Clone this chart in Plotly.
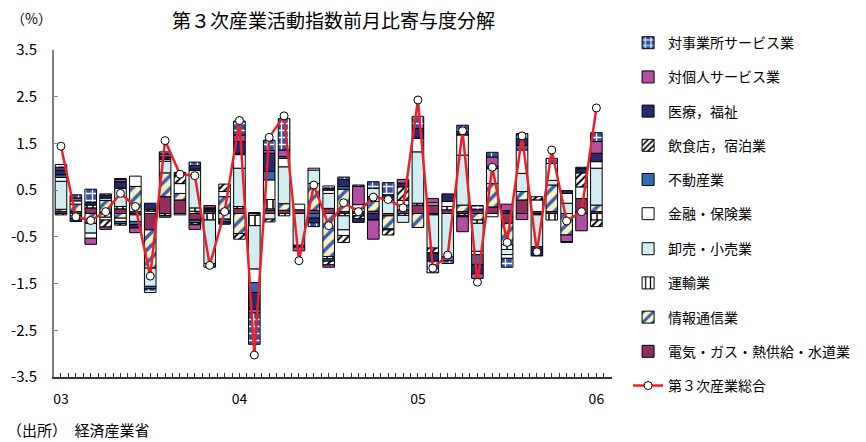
import plotly.graph_objects as go

# Months Jan 2003 - Jan 2006
months = [f"{2003 + i // 12}/{i % 12 + 1:02d}" for i in range(37)]
year_ticks = ["03", "04", "05", "06"]

# Contribution to month-on-month change (percentage points), by industry
denki = [0.04, 0.04, 0.12, 0.03, 0.10, 0.04, -0.35, 0.36, 0.29, -0.14, 0.05, 0.07,
         0.11, 0.02, 0.07, 0.07, 0.08, 0.07, 0.11, 0.04, 0.04, 0.05, -0.05, 0.08,
         0.18, 0.18, 0.08, 0.04, 0.08, 0.14, -0.21, 0.29, 0.04, 0.04, 0.00, 0.32, 0.04]
joho = [0.05, 0.16, -0.21, 0.25, -0.10, 0.54, -0.82, 0.51, 0.14, 0.05, 0.00, 0.29,
        -0.43, -0.04, 0.03, 0.14, 0.00, 0.57, -0.92, 0.48, 0.00, 0.21, -0.28, 0.10,
        -0.30, -0.03, 0.00, 0.14, -0.14, 0.50, -0.46, 0.18, -0.03, 0.57, -0.46, 0.00, 0.14]
unyu = [-0.03, -0.05, 0.06, -0.08, 0.05, -0.03, 0.00, -0.04, 0.00, 0.07, -0.14, 0.00,
        0.04, -0.22, 0.20, -0.05, 0.00, 0.00, -0.05, -0.05, -0.05, 0.10, -0.02, -0.04,
        0.04, 0.00, 0.07, -0.04, -0.07, 0.00, -0.10, 0.00, 0.00, -0.14, 0.00, 0.00, -0.14]
oroshi = [0.60, -0.05, -0.21, 0.05, 0.39, -0.14, -0.39, 0.25, -0.03, 0.80, -0.93, -0.12,
          0.82, -0.93, -0.12, 0.79, -0.68, 0.29, 0.32, -0.30, 0.07, 0.18, 0.29, -0.15,
          1.10, -0.71, -0.93, 1.07, -0.60, 0.32, -0.11, 0.39, -0.68, 0.10, 0.22, 0.00, 0.79]
kinyu = [0.08, 0.07, -0.11, -0.06, -0.07, 0.22, 0.05, 0.04, 0.21, 0.03, 0.00, 0.11,
         0.29, -0.29, 0.42, 0.18, 0.12, 0.04, 0.07, -0.12, 0.08, 0.00, 0.00, 0.10,
         0.29, 0.05, 0.11, 0.43, -0.07, -0.07, -0.08, 0.50, 0.25, 0.36, 0.21, 0.25, 0.14]
fudosan = [0.06, 0.00, 0.00, 0.00, -0.05, -0.07, -0.05, -0.04, 0.00, -0.06, 0.03, -0.06,
           0.03, -0.21, 0.18, 0.04, 0.00, -0.10, -0.05, 0.06, 0.00, 0.00, 0.05, 0.00,
           0.00, 0.00, 0.00, -0.03, -0.21, 0.00, 0.00, 0.10, 0.00, 0.00, 0.00, 0.00, 0.00]
inshoku = [0.00, 0.00, 0.00, -0.15, -0.03, 0.00, 0.03, 0.00, 0.18, -0.04, 0.00, 0.16,
           -0.12, 0.00, -0.06, 0.00, 0.00, 0.00, -0.08, -0.15, -0.06, 0.00, -0.11, 0.29,
           0.00, -0.10, 0.00, 0.00, 0.00, 0.00, 0.00, 0.00, 0.07, 0.00, 0.00, 0.30, -0.14]
iryo = [0.10, -0.07, 0.06, 0.06, 0.14, -0.07, 0.14, 0.05, 0.06, 0.08, 0.04, -0.05,
        0.25, -0.36, 0.39, 0.00, -0.04, -0.10, 0.04, 0.15, -0.08, -0.14, 0.06, 0.08,
        0.21, -0.18, 0.16, 0.08, -0.20, 0.05, 0.06, 0.15, -0.20, 0.00, 0.06, 0.09, 0.18]
kojin = [0.05, 0.06, -0.13, -0.05, 0.05, -0.10, 0.00, 0.06, 0.00, -0.10, 0.05, 0.00,
         0.14, -0.08, 0.06, 0.14, -0.08, 0.00, -0.05, 0.00, 0.39, -0.41, 0.00, 0.08,
         0.00, 0.09, -0.08, -0.32, -0.10, 0.20, 0.14, -0.13, 0.00, 0.00, -0.14, -0.37, 0.25]
jigyosho = [0.07, 0.07, 0.28, 0.03, 0.02, 0.00, -0.08, 0.05, 0.00, 0.07, -0.08, 0.00,
            0.30, -0.67, 0.22, 0.67, 0.00, -0.08, 0.05, 0.05, 0.03, 0.14, 0.26, 0.00,
            0.26, -0.25, -0.06, 0.13, 0.09, 0.10, -0.19, 0.10, 0.00, 0.11, -0.02, 0.03, 0.19]

# Tertiary industry activity index, total (% change from previous month)
total = [1.44, -0.07, -0.15, 0.04, 0.43, 0.15, -1.34, 1.56, 0.84, 0.81, -1.11, 0.04,
         1.99, -3.03, 1.63, 2.09, -1.01, 0.61, -0.26, 0.23, 0.04, 0.35, 0.30, 0.12,
         2.43, -1.17, -0.89, 1.77, -1.47, 0.99, -0.62, 1.66, -0.82, 1.36, -0.16, 0.04, 2.26]

x = list(range(len(months)))
tick_pos = [i for i, m in enumerate(months) if m.endswith("/01")]

FONT = "Noto Sans CJK JP"

# name, values, fill colour, pattern, legend box (stacked bottom to top)
series = [
    ("電気・ガス・熱供給・水道業", denki, "#8e2f5e", None, "legend2"),
    ("情報通信業", joho, "#f7f1c2", dict(shape="/", fgcolor="#3a62b4", bgcolor="#f7f1c2", size=9, solidity=0.4, fillmode="replace"), "legend2"),
    ("運輸業", unyu, "#ffffff", dict(shape="|", fgcolor="#000000", bgcolor="#ffffff", size=6, solidity=0.25, fillmode="replace"), "legend2"),
    ("卸売・小売業", oroshi, "#d2edf2", None, "legend2"),
    ("金融・保険業", kinyu, "#ffffff", None, "legend"),
    ("不動産業", fudosan, "#2f6cb6", None, "legend"),
    ("飲食店，宿泊業", inshoku, "#ffffff", dict(shape="/", fgcolor="#000000", bgcolor="#ffffff", size=5, solidity=0.4, fillmode="replace"), "legend"),
    ("医療，福祉", iryo, "#28286e", None, "legend"),
    ("対個人サービス業", kojin, "#b24fa4", None, "legend"),
    ("対事業所サービス業", jigyosho, "#3152a6", dict(shape="+", fgcolor="#ffffff", bgcolor="#3152a6", size=7, solidity=0.35, fillmode="replace"), "legend"),
]

fig = go.Figure()
n = len(series)
for i, (name, vals, color, pattern, leg) in enumerate(series):
    marker = dict(color=color, line=dict(color="#000000", width=1))
    if pattern:
        marker["pattern"] = pattern
    fig.add_trace(go.Bar(
        x=x, y=[v if v else None for v in vals], name=name,
        marker=marker, width=0.78,
        legend=leg, legendgroup=name, legendrank=n - i,
    ))

fig.add_trace(go.Scatter(
    x=x, y=total, name="第３次産業総合", mode="lines+markers",
    line=dict(color="#e8212b", width=2.5),
    marker=dict(symbol="circle", size=8, color="#ffffff", line=dict(color="#000000", width=1)),
    legend="legend2", legendgroup="total", legendrank=100,
))

legend_style = dict(
    xanchor="left", yanchor="top",
    traceorder="grouped", tracegroupgap=13,
    font=dict(family=FONT, size=14, color="#000000"),
    bgcolor="rgba(0,0,0,0)",
)

fig.update_layout(
    width=866, height=442,
    margin=dict(l=54, r=253, t=50, b=65),
    barmode="relative", bargap=0.22,
    paper_bgcolor="#ffffff", plot_bgcolor="#ffffff",
    font=dict(family=FONT, size=14, color="#000000"),
    showlegend=True,
    legend=dict(x=1.027, y=1.07, **legend_style),
    legend2=dict(x=1.027, y=0.44, **legend_style),
    xaxis=dict(
        range=[-0.47, 37.05], tickvals=tick_pos, ticktext=year_ticks,
        showgrid=False, zeroline=False,
        showline=True, linecolor="#333333", linewidth=1.5,
        ticks="inside", ticklen=4, tickcolor="#333333",
        minor=dict(dtick=0.5, tick0=0, ticks="inside", ticklen=4, tickcolor="#333333"),
        tickfont=dict(family=FONT, size=14), ticklabelstandoff=8,
    ),
    yaxis=dict(
        range=[-3.5, 3.5], tickvals=[-3.5, -2.5, -1.5, -0.5, 0.5, 1.5, 2.5, 3.5],
        ticktext=["-3.5", "-2.5", "-1.5", "-0.5", "0.5", "1.5", "2.5", "3.5"],
        showgrid=False, zeroline=False,
        showline=True, linecolor="#808080", linewidth=2,
        ticks="inside", ticklen=4, tickcolor="#808080",
        tickfont=dict(family=FONT, size=15), ticklabelstandoff=12,
    ),
    annotations=[
        dict(text="第３次産業活動指数前月比寄与度分解", xref="paper", yref="paper",
             x=0.5, y=1.092, xanchor="center", yanchor="middle", showarrow=False,
             font=dict(family=FONT, size=19)),
        dict(text="（%）", xref="paper", yref="paper", x=-0.08, y=1.098,
             xanchor="left", yanchor="middle", showarrow=False,
             font=dict(family=FONT, size=14)),
        dict(text="（出所）　経済産業省", xref="paper", yref="paper", x=-0.088, y=-0.162,
             xanchor="left", yanchor="middle", showarrow=False,
             font=dict(family=FONT, size=15)),
    ],
)

fig.write_html("out.html")
